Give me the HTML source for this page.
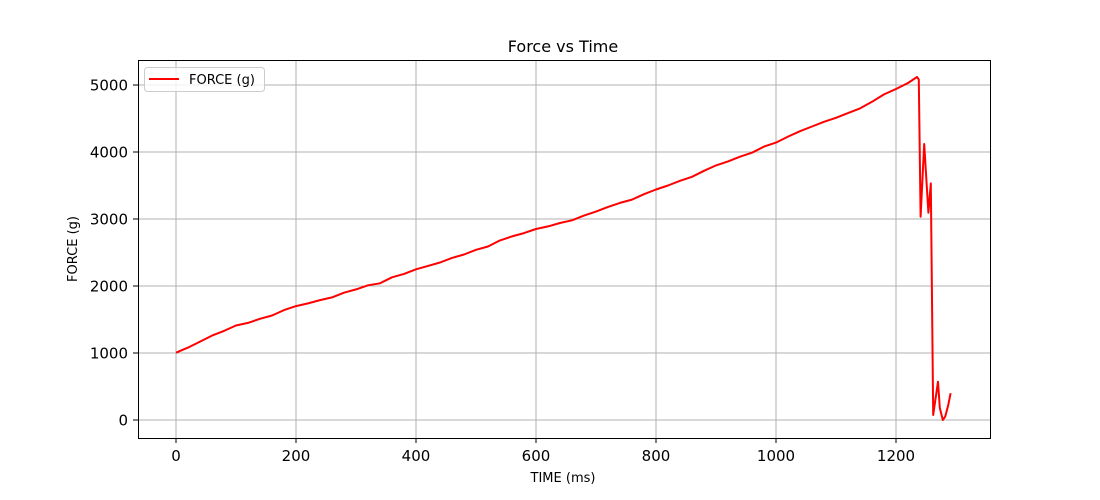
<!DOCTYPE html>
<html><head><meta charset="utf-8">
<style>
body{margin:0;background:#fff;}
svg{display:block;font-family:"DejaVu Sans","Liberation Sans",sans-serif;}
</style></head>
<body>
<svg id="chart" width="1100" height="500">
<rect x="0" y="0" width="1100" height="500" fill="#fff"/>
<text x="563" y="52" font-size="16" text-anchor="middle">Force vs Time</text>
<g id="grid"></g>
<g id="ticks"></g>
<g id="series"></g>
<rect x="138.5" y="60.5" width="852" height="378" fill="none" stroke="#000" stroke-width="1"/>
<text x="563" y="482" font-size="13" text-anchor="middle">TIME (ms)</text>
<text x="0" y="0" font-size="13" text-anchor="middle" transform="translate(77,249) rotate(-90)">FORCE (g)</text>
<g>
<rect x="144.5" y="67.5" width="120" height="24" rx="3" fill="#fff" fill-opacity="0.8" stroke="#ccc"/>
<line x1="149" y1="79" x2="179" y2="79" stroke="red" stroke-width="2"/>
<text x="189" y="84" font-size="13">FORCE (g)</text>
</g>
</svg>
<script>
const times = [0,20,40,60,80,100,120,140,160,180,200,220,240,260,280,300,320,340,360,380,400,420,440,460,480,500,520,540,560,580,600,620,640,660,680,700,720,740,760,780,800,820,840,860,880,900,920,940,960,980,1000,1020,1040,1060,1080,1100,1120,1140,1160,1180,1200,1220,1235,1238,1241,1247,1254,1258,1262,1270,1273,1278,1282,1287,1291];
const forces = [1005,1080,1170,1260,1330,1410,1450,1510,1560,1640,1700,1740,1790,1830,1900,1950,2010,2040,2130,2180,2250,2300,2350,2420,2470,2540,2590,2680,2740,2790,2850,2890,2940,2980,3050,3110,3180,3240,3290,3370,3440,3500,3570,3630,3720,3800,3860,3930,3990,4080,4140,4230,4310,4380,4450,4510,4580,4650,4750,4860,4940,5030,5120,5080,3035,4119,3094,3532,75,572,180,0,50,220,400];
const xTicks = [0,200,400,600,800,1000,1200];
const yTicks = [0,1000,2000,3000,4000,5000];

const NS='http://www.w3.org/2000/svg';
const xs = v => 176 + v*0.6;
const ys = v => 420 - v*0.067;
const grid=document.getElementById('grid'), ticks=document.getElementById('ticks'), series=document.getElementById('series');
function mk(tag,attrs,parent){const e=document.createElementNS(NS,tag);for(const k in attrs)e.setAttribute(k,attrs[k]);parent.appendChild(e);return e;}
xTicks.forEach(t=>{
  const x=xs(t);
  const g=mk('line',{x1:x,y1:61,x2:x,y2:438,stroke:'#b0b0b0','stroke-width':1},grid);
  
  
  const tk=mk('line',{x1:x,y1:438,x2:x,y2:443,stroke:'#000'},ticks);
  
  
  const tx=mk('text',{x:x,y:461,'font-size':15,'text-anchor':'middle'},ticks);
  tx.textContent=t;
  
  
});
yTicks.forEach(t=>{
  const y=ys(t);
  const g=mk('line',{x1:139,y1:y,x2:990,y2:y,stroke:'#b0b0b0','stroke-width':1},grid);
  
  
  const tk=mk('line',{x1:133,y1:y,x2:138,y2:y,stroke:'#000'},ticks);
  
  
  const tx=mk('text',{x:128,y:y+5.5,'font-size':15,'text-anchor':'end'},ticks);
  tx.textContent=t;
  
  
});
const pts=times.map((t,i)=>xs(t).toFixed(1)+','+ys(forces[i]).toFixed(1)).join(' ');
const line=mk('polyline',{points:pts,fill:'none',stroke:'red','stroke-width':2,'stroke-linejoin':'round'},series);


</script>
</body></html>
